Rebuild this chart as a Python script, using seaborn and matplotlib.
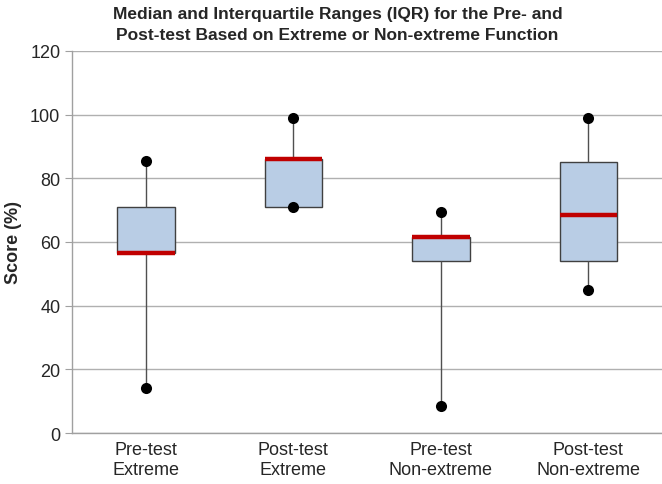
import numpy as np
import pandas as pd
import matplotlib
matplotlib.use("Agg")
import matplotlib.pyplot as plt
import seaborn as sns

# five-number summaries: min, Q1, median, Q3, max
groups = ["Pre-test\nExtreme", "Post-test\nExtreme", "Pre-test\nNon-extreme", "Post-test\nNon-extreme"]
mins = [14.3, 71.0, 8.5, 45.0]
q1s = [56.5, 71.0, 54.0, 54.0]
medians = [56.5, 86.0, 61.5, 68.5]
q3s = [71.0, 86.0, 61.5, 85.0]
maxs = [85.5, 99.0, 69.5, 99.0]

# with exactly five points the linear-interpolated quartiles are the points themselves
rows = []
for g, a, b, c, d, e in zip(groups, mins, q1s, medians, q3s, maxs):
    for v in (a, b, c, d, e):
        rows.append({"group": g, "score": v})
df = pd.DataFrame(rows)

ends = pd.DataFrame({"group": groups * 2, "score": mins + maxs})

sns.set_style("white")
plt.rcParams["font.family"] = ["Liberation Sans", "DejaVu Sans"]

fig = plt.figure(figsize=(6.62, 4.85), dpi=100)
ax = fig.add_axes([0.109, 0.105, 0.891, 0.788])

ax.yaxis.grid(True, color="#b0b0b0", linewidth=1.0)
ax.set_axisbelow(True)

sns.boxplot(data=df, x="group", y="score", order=groups, whis=(0, 100), width=0.39,
            color="#b9cde5", saturation=1, showcaps=False, ax=ax,
            boxprops=dict(edgecolor="#404040", linewidth=1.0),
            whiskerprops=dict(color="#505050", linewidth=1.0),
            medianprops=dict(color="#c00000", linewidth=3.2))
sns.stripplot(data=ends, x="group", y="score", order=groups, jitter=False,
              color="black", size=8, ax=ax, zorder=5)

ax.set_ylim(0, 120)
ax.set_yticks(np.arange(0, 121, 20))
ax.set_xlim(-0.5, 3.5)
ax.set_xticks([0.5, 1.5, 2.5], minor=True)
ax.tick_params(axis="x", which="major", length=0, labelsize=13, pad=6)
ax.tick_params(axis="x", which="minor", length=5, color="#a0a0a0", direction="out")
ax.tick_params(axis="y", length=5, color="#a0a0a0", labelsize=13, left=True)
ax.set_xlabel("")
ax.set_ylabel("Score (%)", fontsize=13, fontweight="bold", labelpad=6)

for s in ["top", "right"]:
    ax.spines[s].set_visible(False)
for s in ["left", "bottom"]:
    ax.spines[s].set_color("#a0a0a0")
    ax.spines[s].set_linewidth(1.0)

fig.suptitle("Median and Interquartile Ranges (IQR) for the Pre- and\nPost-test Based on Extreme or Non-extreme Function",
             fontsize=12.5, fontweight="bold", y=0.985, x=0.51, linespacing=1.45)

fig.savefig("out.png", dpi=100)
